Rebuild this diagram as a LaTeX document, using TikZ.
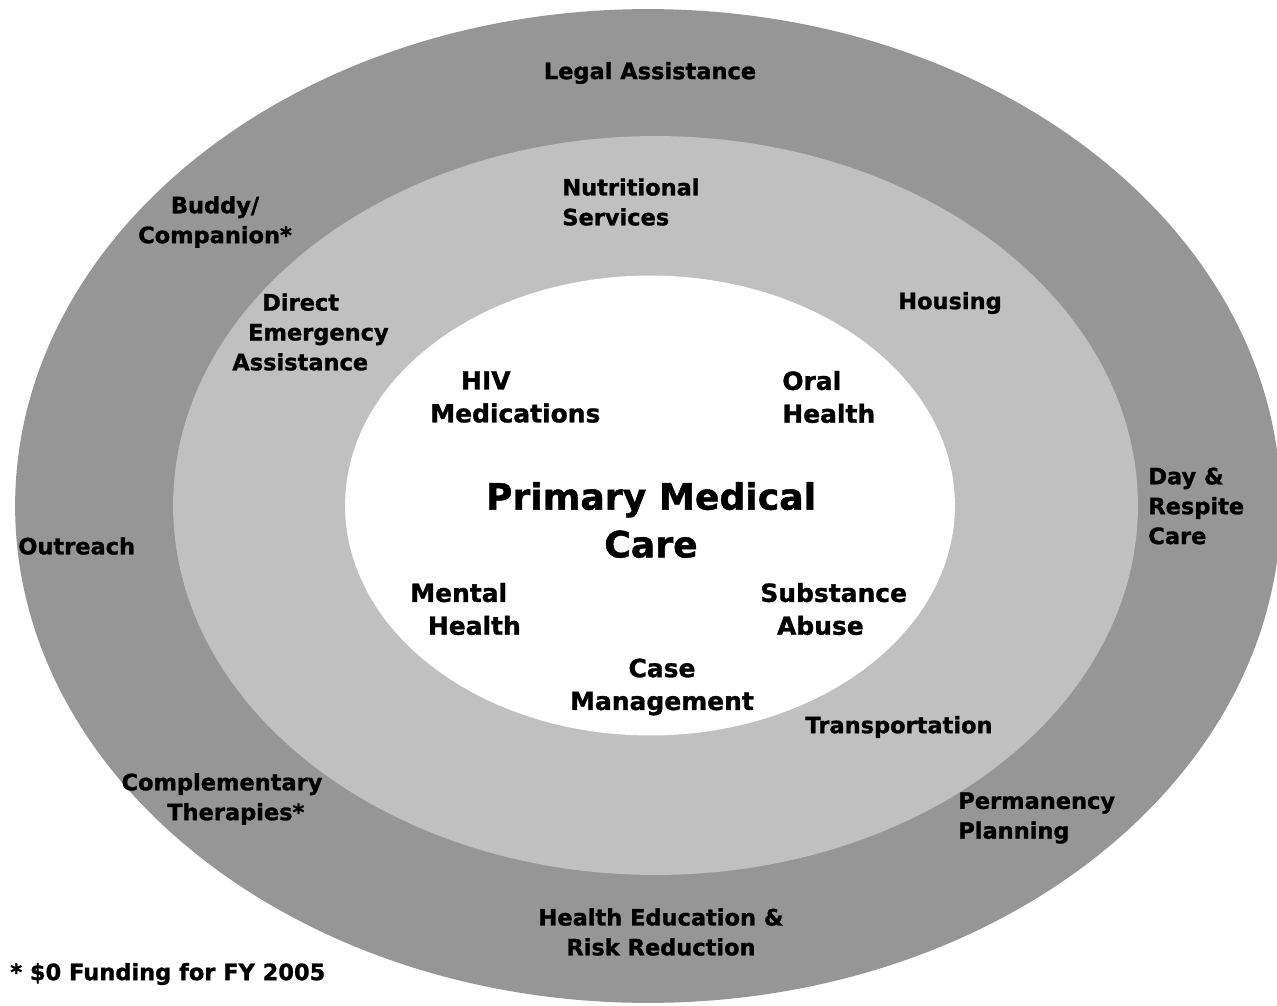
\documentclass[tikz,border=0pt]{standalone}
\usepackage{fontspec}
\setmainfont{DejaVu Sans}[BoldFeatures={FakeBold=1.2}]
\definecolor{ringouter}{gray}{0.59}
\definecolor{ringmid}{gray}{0.753}
\tikzset{
  lbl/.style={inner sep=0pt, font=\bfseries\fontsize{12.8}{17}\selectfont, text=black},
  inlbl/.style={inner sep=0pt, font=\bfseries\fontsize{14.2}{18.7}\selectfont, text=black},
  mainlbl/.style={inner sep=0pt, font=\bfseries\fontsize{20.6}{27.2}\selectfont, text=black, align=center}
}
\begin{document}
\begin{tikzpicture}[x=0.02cm, y=-0.02cm]
\useasboundingbox (0,0) rectangle (1277,1006);
\fill[white] (0,0) rectangle (1277,1006);
% rings
\fill[ringouter] (648,506) ellipse [x radius=12.66cm, y radius=9.94cm];
\fill[ringmid] (655.5,505.5) ellipse [x radius=9.65cm, y radius=7.39cm];
\fill[white] (650,505.5) ellipse [x radius=6.1cm, y radius=4.6cm];
% outer ring
\node[lbl] (legal) at (650,73) {Legal Assistance};
\node[lbl, align=center] (buddy) at (215,222) {Buddy/\\Companion*};
\node[lbl, anchor=west] (outreach) at (18,546) {Outreach};
\node[lbl, anchor=west, align=left] (day) at (1148,506) {Day \&\\Respite\\Care};
\node[lbl, align=left] (compl) at (222,799) {Complementary\\\hspace*{26pt}Therapies*};
\node[lbl, anchor=west, align=left] (perm) at (958,818) {Permanency\\Planning};
\node[lbl, align=center] (healthed) at (661,932) {Health Education \&\\Risk Reduction};
% middle ring
\node[lbl, anchor=west, align=left] (nutri) at (562,202) {Nutritional\\Services};
\node[lbl] (housing) at (950,303) {Housing};
\node[lbl, anchor=west, align=left] (direct) at (232,332) {\hspace*{17pt}Direct\\\hspace*{9pt}Emergency\\Assistance};
\node[lbl] (transp) at (899,727) {Transportation};
% inner
\node[inlbl, anchor=west, align=left] (hiv) at (430,397) {\hspace*{17.5pt}HIV\\Medications};
\node[inlbl, anchor=west, align=left] (oral) at (782,397) {Oral\\Health};
\node[mainlbl] (pmc) at (651,520) {Primary Medical\\Care};
\node[inlbl, anchor=west, align=left] (mental) at (410,609) {Mental\\\hspace*{10pt}Health};
\node[inlbl, anchor=west, align=left] (subst) at (760,609) {Substance\\\hspace*{9.5pt}Abuse};
\node[inlbl, align=center] (case) at (662,687) {Case\\Management};
% footnote
\node[lbl, anchor=west] (foot) at (10,974) {* \$0 Funding for FY 2005};
\end{tikzpicture}
\end{document}
